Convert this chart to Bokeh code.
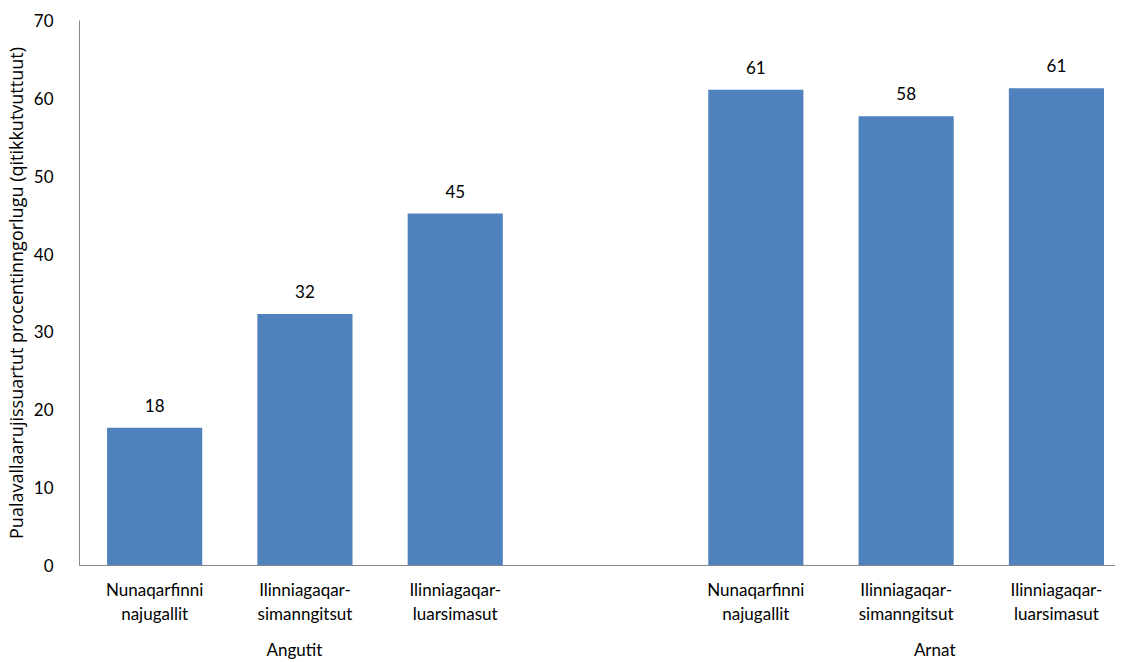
from bokeh.plotting import figure
from bokeh.models import ColumnDataSource, FixedTicker, LinearAxis, Range1d
from bokeh.embed import file_html
from bokeh.resources import INLINE
from bokeh.core.properties import value

# ---- data ----
groups = ["Angutit", "Arnat"]
categories = ["Nunaqarfinni\nnajugallit", "Ilinniagaqar-\nsimanngitsut", "Ilinniagaqar-\nluarsimasut"]
values_angutit = [17.7, 32.3, 45.2]
values_arnat = [61.1, 57.7, 61.3]
labels_angutit = ["18", "32", "45"]
labels_arnat = ["61", "58", "61"]
y_title = "Pualavallaarujissuartut procentinngorlugu (qitikkutvuttuut)"

# ---- layout ----
FONT = "Lato"
slot_per_group = len(categories) + 1  # one empty slot between groups
xs, tops, labs, names = [], [], [], []
for g, (vals, ls) in enumerate([(values_angutit, labels_angutit), (values_arnat, labels_arnat)]):
    for i, (v, l) in enumerate(zip(vals, ls)):
        xs.append(g * slot_per_group + i)
        tops.append(v)
        labs.append(l)
        names.append(categories[i])
group_centers = [g * slot_per_group + (len(categories) - 1) / 2 for g in range(len(groups))]
group_nudge = [-0.07, 0.19]
group_ticks = [c + n for c, n in zip(group_centers, group_nudge)]

src = ColumnDataSource(dict(x=xs, top=tops, label=labs))

p = figure(width=1115, height=662, output_backend="svg", toolbar_location=None,
           x_range=Range1d(-0.5, 6.393), y_range=Range1d(0, 70),
           min_border_left=73, min_border_right=0, min_border_top=20, min_border_bottom=97)
p.outline_line_color = None
p.xgrid.visible = False
p.ygrid.visible = False

p.vbar(x="x", top="top", width=0.633, source=src, fill_color="#4F81BD", line_color=None)
p.text(x="x", y="top", text="label", source=src, text_align="center", text_baseline="bottom",
       y_offset=-16, text_font=value(FONT), text_font_size="17px", text_color="#000000")

# y axis
ya = p.yaxis[0]
ya.ticker = FixedTicker(ticks=list(range(0, 71, 10)))
ya.axis_line_color = "#868686"
ya.major_tick_line_color = None
ya.minor_tick_line_color = None
ya.major_label_text_font = FONT
ya.major_label_text_font_size = "17px"
ya.major_label_text_color = "#000000"
ya.major_label_standoff = 20
ya.axis_label = y_title
ya.axis_label_text_font = "Open Sans"
ya.axis_label_text_font_size = "18px"
ya.axis_label_text_font_style = "normal"
ya.axis_label_text_color = "#000000"
ya.axis_label_standoff = 3

# x axis (categories)
xa = p.xaxis[0]
xa.ticker = FixedTicker(ticks=[float(x) for x in xs])
xa.major_label_overrides = {float(x): n for x, n in zip(xs, names)}
xa.axis_line_color = "#868686"
xa.major_tick_line_color = None
xa.minor_tick_line_color = None
xa.major_label_text_font = FONT
xa.major_label_text_font_size = "17px"
xa.major_label_text_color = "#000000"
xa.major_label_text_line_height = 1.15
xa.major_label_standoff = 7
xa.major_label_text_line_height = 1.15

# group axis
ga = LinearAxis(ticker=FixedTicker(ticks=group_ticks),
                major_label_overrides={t: g for t, g in zip(group_ticks, groups)})
ga.axis_line_color = None
ga.major_tick_line_color = None
ga.minor_tick_line_color = None
ga.major_label_text_font = FONT
ga.major_label_text_font_size = "17px"
ga.major_label_text_color = "#000000"
ga.major_label_standoff = 6
p.add_layout(ga, "below")

open("out.html", "w").write(file_html(p, INLINE))
